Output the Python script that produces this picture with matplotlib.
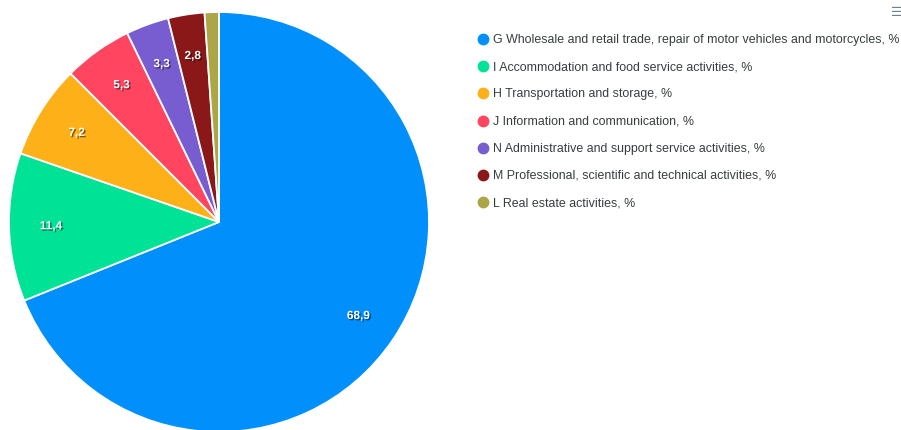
import matplotlib
matplotlib.use("Agg")
import numpy as np
import matplotlib.pyplot as plt
import matplotlib.patheffects as pe
from matplotlib.lines import Line2D

labels = [
    "G Wholesale and retail trade, repair of motor vehicles and motorcycles, %",
    "I Accommodation and food service activities, %",
    "H Transportation and storage, %",
    "J Information and communication, %",
    "N Administrative and support service activities, %",
    "M Professional, scientific and technical activities, %",
    "L Real estate activities, %",
]
values = [68.9, 11.4, 7.2, 5.3, 3.3, 2.8, 1.1]
shown = ["68,9", "11,4", "7,2", "5,3", "3,3", "2,8", ""]
colors = ["#008FFB", "#00E396", "#FEB019", "#FF4560", "#775DD0", "#8B1818", "#ADA646"]

W, H = 901, 431
fig = plt.figure(figsize=(W / 100, H / 100), dpi=100)
plt.rcParams['font.family'] = ['Liberation Sans', 'DejaVu Sans']

# pie area in pixels: x 9..429, y 13..433 (slightly cut at bottom)
ax = fig.add_axes([9 / W, (H - 433) / H, 420 / W, 420 / H])
ax.axis("off")

ax.pie(values, colors=colors, startangle=90, counterclock=False,
       radius=1, center=(0, 0), frame=False,
       wedgeprops=dict(edgecolor="white", linewidth=1.3))
ax.set_xlim(-1, 1)
ax.set_ylim(-1, 1)

start = 90.0
total = sum(values)
for v, s in zip(values, shown):
    ang = start - v / total * 360 / 2
    start -= v / total * 360
    if not s:
        continue
    r = 0.8
    x = r * np.cos(np.radians(ang))
    y = r * np.sin(np.radians(ang))
    ax.text(x, y, s, ha="center", va="center", color="white", fontsize=8.5,
            fontweight="bold",
            path_effects=[pe.SimplePatchShadow(offset=(1, -1), shadow_rgbFace="black", alpha=0.5),
                          pe.Normal()])

# legend
y0 = 40
for i, (lab, col) in enumerate(zip(labels, colors)):
    yp = 1 - (y0 + i * 27.2) / H
    fig.add_artist(Line2D([483 / W], [yp], marker="o", markersize=8.5, color=col,
                          markeredgewidth=0, transform=fig.transFigure))
    fig.text(493 / W, yp, lab, color="#373d3f", fontsize=8.9, ha="left", va="center")

fig.text(897 / W, 1 - 12 / H, "\u2630", color="#6e8192", fontsize=9, ha="center", va="center",
         family="DejaVu Sans")

fig.savefig("out.png", dpi=100)
